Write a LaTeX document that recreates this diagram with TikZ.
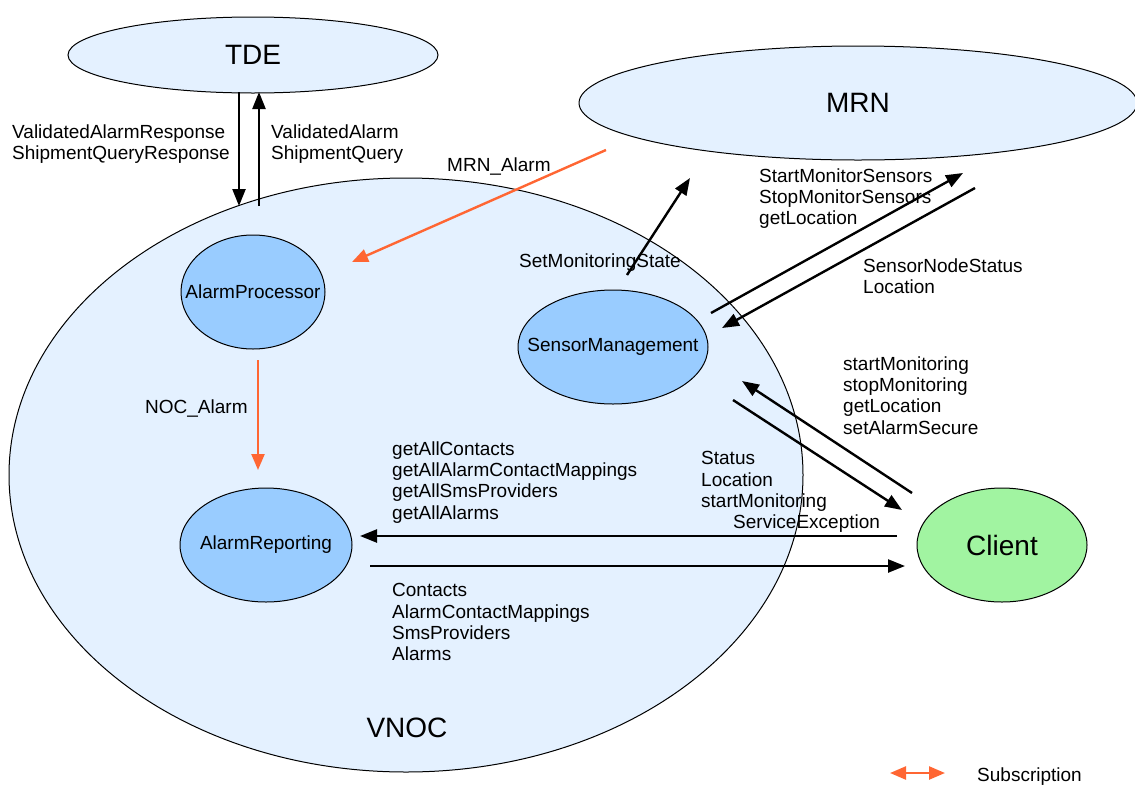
\documentclass[tikz,border=0pt]{standalone}
\usepackage{fontspec}
\setmainfont{Liberation Sans}
\usetikzlibrary{shapes.geometric,arrows.meta}
\definecolor{paleblue}{HTML}{E4F1FF}
\definecolor{skyblue}{HTML}{99CCFF}
\definecolor{clientgreen}{HTML}{A1F4A1}
\definecolor{subc}{HTML}{FF6633}
\tikzset{
  region/.style={ellipse, draw=black, line width=1pt, fill=paleblue, inner sep=0pt},
  comp/.style={ellipse, draw=black, line width=1pt, fill=skyblue, inner sep=0pt},
  compname/.style={inner sep=0pt, font=\fontsize{19}{21.3}\selectfont},
  bigtext/.style={font=\fontsize{28}{30}\selectfont, inner sep=0pt},
  lbl/.style={anchor=north west, inner sep=0pt, align=left,
    font=\fontsize{19}{21.3}\selectfont},
  msg/.style={draw=black, line width=2.4pt, -{Triangle[length=17pt,width=13pt]}},
  sub/.style={draw=subc, line width=2.4pt, -{Triangle[length=16pt,width=13pt]}},
  subboth/.style={draw=subc, line width=2.4pt,
    {Triangle[length=16pt,width=13pt]}-{Triangle[length=16pt,width=13pt]}},
}
\begin{document}
\begin{tikzpicture}[x=1pt,y=-1pt]
\useasboundingbox (0,0) rectangle (1135,785);

% systems
\node[region, minimum width=794pt, minimum height=594pt] (vnoc) at (406,475) {};
\node[region, minimum width=370pt, minimum height=76pt, bigtext] (tde) at (253,55) {TDE};
\node[region, minimum width=558pt, minimum height=114pt, bigtext] (mrn) at (858,103) {MRN};
\node[bigtext] (vnoclabel) at (407,728) {VNOC};

% components (names set as centred labels so the ellipse keeps its size)
\node[comp, minimum width=144pt, minimum height=114pt,
  label={[compname]center:AlarmProcessor}] (ap) at (253,292) {};
\node[comp, minimum width=190pt, minimum height=114pt,
  label={[compname]center:SensorManagement}] (sm) at (613,347) {};
\node[comp, minimum width=172pt, minimum height=114pt,
  label={[compname]center:AlarmReporting}] (ar) at (266,545) {};
\node[ellipse, draw=black, line width=1pt, fill=clientgreen, inner sep=0pt,
  minimum width=170pt, minimum height=114pt, bigtext] (client) at (1002,545) {Client};

% connector ends
\coordinate (tdeDownS) at (239,92);
\coordinate (tdeDownE) at (239,206);
\coordinate (tdeUpS) at (259,206);
\coordinate (tdeUpE) at (259,92);
\coordinate (mrnAlarmS) at (606,150);
\coordinate (mrnAlarmE) at (352,262);
\coordinate (setMonS) at (627,275);
\coordinate (setMonE) at (690,178);
\coordinate (smMrnS) at (711,313);
\coordinate (smMrnE) at (963,173);
\coordinate (mrnSmS) at (975,188);
\coordinate (mrnSmE) at (722,328);
\coordinate (clSmS) at (912,493);
\coordinate (clSmE) at (742,381);
\coordinate (smClS) at (733,400);
\coordinate (smClE) at (902,510);
\coordinate (clArS) at (897,536);
\coordinate (clArE) at (360,536);
\coordinate (arClS) at (370,566);
\coordinate (arClE) at (905,566);
\coordinate (nocS) at (258,360);
\coordinate (nocE) at (258,470);
\coordinate (legS) at (890,773);
\coordinate (legE) at (945,773);

% messages
\draw[msg] (tdeDownS) -- (tdeDownE);
\draw[msg] (tdeUpS) -- (tdeUpE);
\draw[sub] (mrnAlarmS) -- (mrnAlarmE);
\draw[msg] (setMonS) -- (setMonE);
\draw[msg] (smMrnS) -- (smMrnE);
\draw[msg] (mrnSmS) -- (mrnSmE);
\draw[msg] (clSmS) -- (clSmE);
\draw[msg] (smClS) -- (smClE);
\draw[msg] (clArS) -- (clArE);
\draw[msg] (arClS) -- (arClE);
\draw[sub] (nocS) -- (nocE);
\draw[subboth] (legS) -- (legE);

% message labels
\node[lbl] (lTdeDown) at (12,124.3) {ValidatedAlarmResponse\\ShipmentQueryResponse};
\node[lbl] (lTdeUp) at (271,124.3) {ValidatedAlarm\\ShipmentQuery};
\node[lbl] (lMrnAlarm) at (447,157.3) {MRN\_Alarm};
\node[lbl] (lSetMon) at (519,253.3) {SetMonitoringState};
\node[lbl] (lSmMrn) at (759,168.3) {StartMonitorSensors\\StopMonitorSensors\\getLocation};
\node[lbl] (lMrnSm) at (863,258.3) {SensorNodeStatus\\Location};
\node[lbl] (lClSm) at (843,356.3) {startMonitoring\\stopMonitoring\\getLocation\\setAlarmSecure};
\node[lbl] (lSmCl) at (701,451.3) {Status\\Location\\startMonitoring\\\hspace*{32pt}ServiceException};
\node[lbl] (lClAr) at (392,441.3) {getAllContacts\\getAllAlarmContactMappings\\getAllSmsProviders\\getAllAlarms};
\node[lbl] (lArCl) at (392,583.3) {Contacts\\AlarmContactMappings\\SmsProviders\\Alarms};
\node[lbl] (lNoc) at (145,399.3) {NOC\_Alarm};
\node[lbl] (lLegend) at (977,767.3) {Subscription};
\end{tikzpicture}
\end{document}
